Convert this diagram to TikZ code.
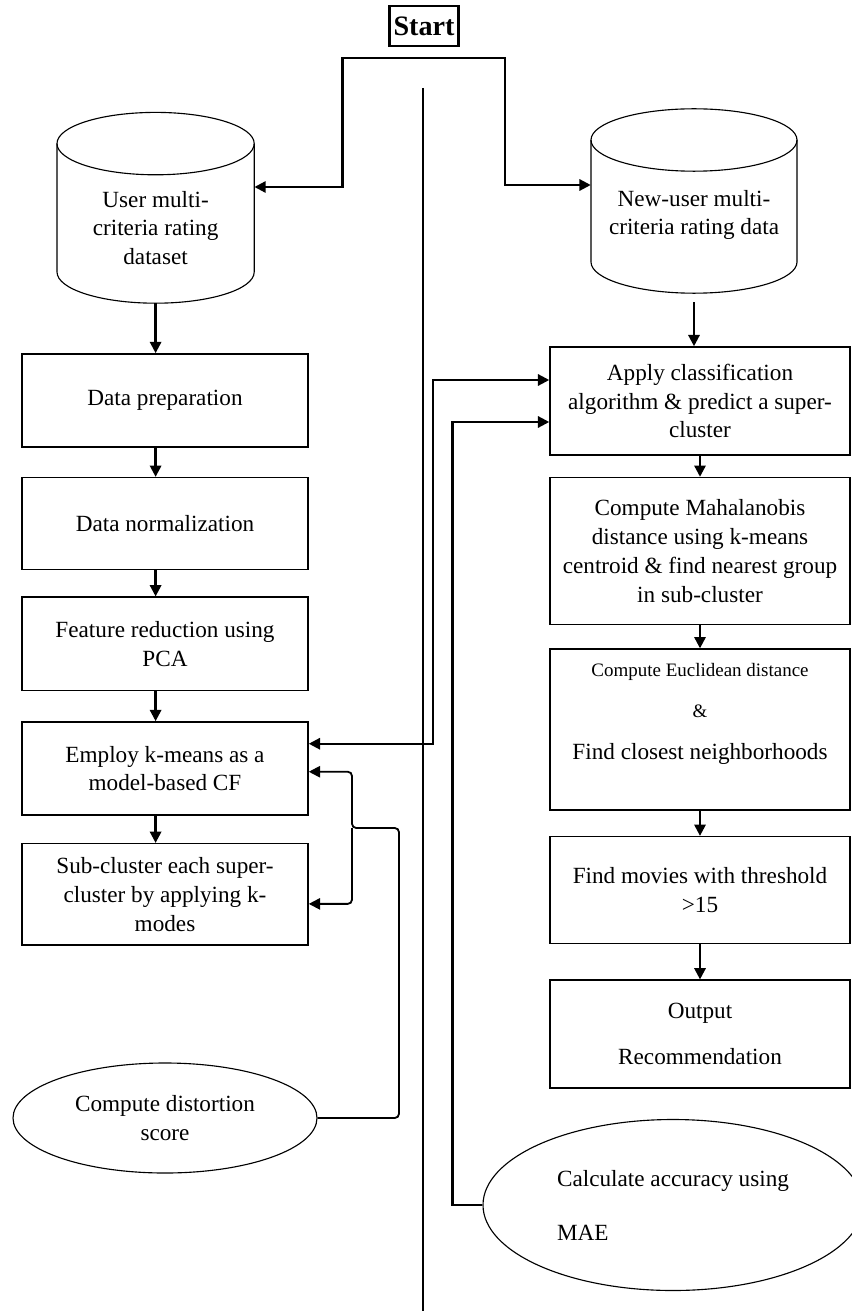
\documentclass[tikz,border=0pt]{standalone}
\usepackage{fontspec}
\setmainfont{Liberation Serif}
\usepackage{tikz}
\usetikzlibrary{arrows.meta,positioning,shapes.geometric}
\newcommand{\fs}{\fontsize{16.5}{20.5}\selectfont}
% drum outline round a text node: name, half width, top offset, bottom offset
\newcommand{\drum}[4]{%
  \draw[line width=0.8pt] ([shift={(-#2,#3)}]#1.center) -- ([shift={(-#2,#4)}]#1.center)
    arc[start angle=180, end angle=360, x radius=#2, y radius=0.78]
    -- ([shift={(#2,#3)}]#1.center);
  \draw[line width=0.8pt] ([shift={(0,#3)}]#1.center) ellipse[x radius=#2, y radius=0.78];}

\begin{document}
\begin{tikzpicture}[
  >={Triangle[length=8pt,width=8pt]},
  box/.style={draw, line width=1.1pt, align=center, font=\fs, minimum width=7.15cm, inner sep=3pt},
  rbox/.style={box, minimum width=7.5cm},
  oval/.style={draw, ellipse, line width=0.8pt, align=center, font=\fs, inner sep=0pt},
  dbtxt/.style={align=center, font=\fs, inner sep=0pt},
  arr/.style={->, line width=1.6pt},
  loop/.style={->, line width=1.3pt, rounded corners=3pt},
]
  \useasboundingbox (0,0) rectangle (21.275,-32.775);

  \node[draw, line width=1.8pt, font=\fontsize{20}{22}\selectfont\bfseries, inner sep=2pt,
    minimum width=1.72cm, minimum height=1cm] (start) at (10.6,-0.65) {Start};
  \coordinate (split) at ([yshift=-0.27cm]start.south);
  \draw[line width=1.6pt] (10.575,-2.2) -- (10.575,-32.8);

  % data sources
  \node[dbtxt, minimum width=4.93cm, minimum height=3.75cm] (userdb) at (3.89,-5.7)
    {User multi-\\criteria rating\\dataset};
  \drum{userdb}{2.465}{2.11}{-1.1}
  \node[dbtxt, minimum width=5.15cm, minimum height=4.35cm] (newdb) at (17.35,-5.375)
    {New-user multi-\\criteria rating data};
  \drum{newdb}{2.575}{1.875}{-1.175}

  % left column
  \node[box, minimum height=2.33cm] (prep) at (4.125,-10.0125) {Data preparation};
  \node[box, minimum height=2.3cm, below=0.725cm of prep] (norm) {Data normalization};
  \node[box, minimum height=2.33cm, below=0.65cm of norm] (feat) {Feature reduction using\\PCA};
  \node[box, minimum height=2.33cm, below=0.75cm of feat] (kmeans) {Employ k-means as a\\model-based CF};
  \node[box, minimum height=2.53cm, below=0.675cm of kmeans] (subclus)
    {Sub-cluster each super-\\cluster by applying k-\\modes};
  \node[oval, minimum width=7.6cm, minimum height=2.75cm] (distort) at (4.125,-27.95)
    {Compute distortion\\score};

  % right column
  \node[rbox, minimum height=2.7cm] (apply) at (17.5,-10.025)
    {Apply classification\\algorithm \& predict a super-\\cluster};
  \node[rbox, minimum height=3.675cm, below=0.525cm of apply] (mahal)
    {Compute Mahalanobis\\distance using k-means\\centroid \& find nearest group\\in sub-cluster};
  \node[rbox, minimum height=4.025cm, below=0.575cm of mahal] (eucl)
    {{\fontsize{13.5}{16}\selectfont Compute Euclidean distance}\\[9pt]
     {\fontsize{13.5}{16}\selectfont \&}\\[9pt]Find closest neighborhoods\\[6pt]};
  \node[rbox, minimum height=2.675cm, below=0.625cm of eucl] (movies) {Find movies with threshold\\>15};
  \node[rbox, minimum height=2.7cm, below=0.875cm of movies] (output) {Output\\[12pt]Recommendation};
  \node[oval, align=left, minimum width=9.5cm, minimum height=4.275cm] (acc) at (16.825,-30.125)
    {Calculate accuracy using\\[18pt]MAE};

  % flow
  \draw[arr] (split) -| ([xshift=2.2cm, yshift=1.025cm]userdb.east) -- ([yshift=1.025cm]userdb.east);
  \draw[arr] (split) -| ([xshift=-2.15cm, yshift=0.75cm]newdb.west) -- ([yshift=0.75cm]newdb.west);

  \draw[arr] (userdb.south) -- (userdb.south |- prep.north);
  \draw[arr] (prep.south -| userdb.south) -- (norm.north -| userdb.south);
  \draw[arr] (norm.south -| userdb.south) -- (feat.north -| userdb.south);
  \draw[arr] (feat.south -| userdb.south) -- (kmeans.north -| userdb.south);
  \draw[arr] (kmeans.south -| userdb.south) -- (subclus.north -| userdb.south);

  \draw[arr] (newdb.south) -- (newdb.south |- apply.north);
  \draw[arr] (apply) -- (mahal);
  \draw[arr] (mahal) -- (eucl);
  \draw[arr] (eucl) -- (movies);
  \draw[arr] (movies) -- (output);

  \draw[arr, <->] ([yshift=0.62cm]kmeans.east) -- ++(3.1,0) |- ([yshift=0.525cm]apply.west);
  \draw[arr] (acc.west) -- ++(-0.75,0) |- ([yshift=-0.525cm]apply.west);

  \coordinate (fb) at (8.8,-20.7);
  \draw[loop] (distort.east) -| (9.975,-20.7) -- (fb) |- ([yshift=-0.08cm]kmeans.east);
  \draw[loop] (fb) |- ([yshift=-0.24cm]subclus.east);
\end{tikzpicture}
\end{document}
